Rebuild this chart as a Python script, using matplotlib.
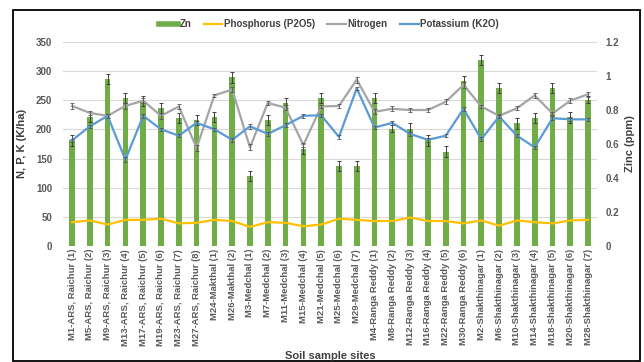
import matplotlib
matplotlib.use('Agg')
from matplotlib import pyplot as plt
from matplotlib import transforms
from matplotlib.lines import Line2D
from matplotlib.patches import Rectangle

plt.rcParams['font.family'] = ['Liberation Sans', 'DejaVu Sans']

sites = ['M1-ARS, Raichur (1)', 'M5-ARS, Raichur (2)', 'M9-ARS, Raichur (3)',
         'M13-ARS, Raichur (4)', 'M17-ARS, Raichur (5)', 'M19-ARS, Raichur (6)',
         'M23-ARS, Raichur (7)', 'M27-ARS, Raichur (8)', 'M24-Makthal (1)',
         'M26-Makthal (2)', 'M3-Medchal (1)', 'M7-Medchal (2)', 'M11-Medchal (3)',
         'M15-Medchal (4)', 'M21-Medchal (5)', 'M25-Medchal (6)', 'M29-Medchal (7)',
         'M4-Ranga Reddy (1)', 'M8-Ranga Reddy (2)', 'M12-Ranga Reddy (3)',
         'M16-Ranga Reddy (4)', 'M22-Ranga Reddy (5)', 'M30-Ranga Reddy (6)',
         'M2-Shakthinagar (1)', 'M6-Shakthinagar (2)', 'M10-Shakthinagar (3)',
         'M14-Shakthinagar (4)', 'M18-Shakthinagar (5)', 'M20-Shakthinagar (6)',
         'M28-Shakthinagar (7)']

# Zn in ppm (right axis)
zinc = [0.62, 0.76, 0.98, 0.87, 0.85, 0.81, 0.75, 0.74, 0.76, 0.99,
        0.41, 0.74, 0.84, 0.57, 0.87, 0.47, 0.47, 0.87, 0.69, 0.69,
        0.62, 0.555, 0.97, 1.09, 0.93, 0.72, 0.75, 0.93, 0.755, 0.86]
zinc_err = [0.03, 0.03, 0.03, 0.03, 0.03, 0.03, 0.03, 0.03, 0.03, 0.03,
            0.03, 0.03, 0.03, 0.03, 0.03, 0.03, 0.03, 0.03, 0.02, 0.03,
            0.03, 0.03, 0.03, 0.03, 0.03, 0.03, 0.03, 0.03, 0.03, 0.02]

# N, P, K in K/ha (left axis)
phosphorus = [41, 44, 37, 45, 45, 47, 39, 40, 45, 43,
              33, 41, 40, 34, 37, 47, 45, 43, 43, 49,
              43, 43, 39, 44, 35, 44, 41, 39, 44, 45]
nitrogen = [240, 228, 223, 240, 249, 223, 239, 168, 258, 268,
            169, 245, 237, 173, 239, 240, 285, 230, 235, 233,
            233, 247, 276, 239, 223, 236, 258, 227, 249, 260]
nitrogen_err = [5, 4, 3, 5, 4, 5, 5, 5, 3, 5,
                5, 4, 4, 4, 3, 4, 5, 4, 4, 4,
                4, 4, 5, 3, 3, 3, 4, 3, 4, 4]
potassium = [181, 205, 223, 148, 223, 200, 189, 211, 200, 182,
             205, 192, 207, 223, 224, 187, 270, 203, 211, 192,
             182, 189, 235, 183, 222, 189, 169, 219, 217, 217]
potassium_err = [3, 3, 3, 4, 3, 3, 3, 3, 3, 3,
                 4, 3, 3, 3, 3, 3, 3, 3, 3, 3,
                 3, 3, 3, 3, 3, 3, 3, 3, 3, 3]

green = '#70AD47'
gold = '#FFC000'
grey = '#A5A5A5'
blue = '#5B9BD5'
txt = '#595959'

fig = plt.figure(figsize=(6.44, 3.62), dpi=100)
ax = fig.add_axes([0.098, 0.320, 0.829, 0.565])
ax2 = ax.twinx()
ax.set_zorder(2)
ax.patch.set_visible(False)
ax2.set_zorder(1)

x = list(range(len(sites)))

# gridlines follow the left axis but sit behind the bars
grid_tr = transforms.blended_transform_factory(ax2.transAxes, ax.transData)
for v in range(0, 351, 50):
    ax2.plot([0, 1], [v, v], color='#D9D9D9', lw=0.8, transform=grid_tr, zorder=0)

ax2.bar(x, zinc, width=0.32, color=green, zorder=2)
ax2.errorbar(x, zinc, yerr=zinc_err, fmt='none', ecolor='#404040',
             elinewidth=0.7, capsize=1.6, capthick=0.7, zorder=3)

ax.plot(x, phosphorus, color=gold, lw=1.6)
ax.plot(x, nitrogen, color=grey, lw=1.6)
ax.errorbar(x, nitrogen, yerr=nitrogen_err, fmt='none', ecolor='#555555',
            elinewidth=0.6, capsize=1.4, capthick=0.6)
ax.plot(x, potassium, color=blue, lw=1.6)
ax.errorbar(x, potassium, yerr=potassium_err, fmt='none', ecolor='#555555',
            elinewidth=0.6, capsize=1.4, capthick=0.6)

ax.set_xlim(-0.5, len(sites) - 0.5)
ax.set_ylim(0, 350)
ax2.set_ylim(0, 1.2)
ax.set_yticks(range(0, 351, 50))
ax2.set_yticks([0, 0.2, 0.4, 0.6, 0.8, 1.0, 1.2])
ax2.set_yticklabels(['0', '0.2', '0.4', '0.6', '0.8', '1', '1.2'])

ax.set_xticks(x)
ax.set_xticklabels(sites, rotation=90, fontsize=6.8, fontweight='bold', color=txt)
for a in (ax, ax2):
    for s in a.spines.values():
        s.set_visible(False)
    a.tick_params(length=0)
ax.tick_params(axis='y', labelsize=7, labelcolor=txt, pad=8)
ax2.tick_params(axis='y', labelsize=7, labelcolor=txt, pad=6)
ax.tick_params(axis='x', pad=2)
for lab in ax.get_yticklabels() + ax2.get_yticklabels():
    lab.set_fontweight('bold')

ax.set_ylabel('N, P, K (K/ha)', fontsize=8, fontweight='bold', color='#404040', labelpad=6)
ax2.set_ylabel('Zinc (ppm)', fontsize=8, fontweight='bold', color='#404040', labelpad=4)
ax.set_xlabel('Soil sample sites', fontsize=8, fontweight='bold', color='#404040', labelpad=4)

handles = [Line2D([], [], color=green, lw=4),
           Line2D([], [], color=gold, lw=1.6),
           Line2D([], [], color=grey, lw=1.6),
           Line2D([], [], color=blue, lw=1.6)]
names = ['Zn', 'Phosphorus (P2O5)', 'Nitrogen', 'Potassium (K2O)']
fig.legend(handles, names, loc='center', bbox_to_anchor=(0.511, 1 - 24 / 362), ncol=4,
           frameon=False, prop={'size': 7, 'weight': 'bold'}, labelcolor='#404040',
           handlelength=1.9, handletextpad=0.15, columnspacing=1.3)

fig.patches.append(Rectangle((13 / 644, 1 / 362), 627 / 644, 351 / 362,
                             transform=fig.transFigure, fill=False,
                             edgecolor='black', lw=1.3))

fig.savefig('out.png', dpi=100)
